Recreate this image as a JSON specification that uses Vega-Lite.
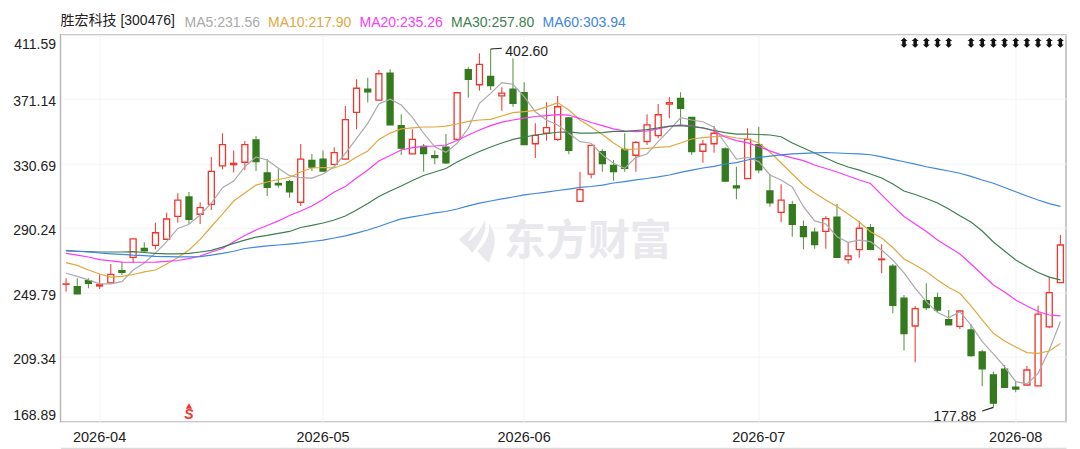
{"$schema":"https://vega.github.io/schema/vega-lite/v6.json","width":1005.5,"height":387,"autosize":"none","padding":{"left":60.5,"top":34.7,"right":14,"bottom":27.3},"background":"white",
"config":{"font":"Liberation Sans, Noto Sans CJK SC","view":{"stroke":"#b8b8b8","strokeWidth":1.5}},
"title":{"text":"胜宏科技 [300476]","anchor":"start","frame":"group","fontSize":14,"fontWeight":"normal","color":"#222","offset":-12,"font":"Liberation Sans, Noto Sans CJK SC"},
"data":{"values":[
{"date":"2026-03-27","open":255.1,"high":258.8,"low":250.4,"close":255.3,"ma5":262.0,"ma10":268.6,"ma20":274.5,"ma30":276.0,"ma60":276.3},
{"date":"2026-03-30","open":253.6,"high":258.8,"low":248.8,"close":249.0,"ma5":260.0,"ma10":266.9,"ma20":273.4,"ma30":275.8,"ma60":275.8},
{"date":"2026-03-31","open":257.3,"high":258.8,"low":252.6,"close":255.7,"ma5":257.8,"ma10":264.0,"ma20":272.2,"ma30":275.5,"ma60":275.3},
{"date":"2026-04-01","open":254.0,"high":261.3,"low":252.1,"close":254.8,"ma5":255.3,"ma10":261.5,"ma20":270.5,"ma30":275.3,"ma60":274.7},
{"date":"2026-04-02","open":255.9,"high":267.8,"low":255.7,"close":261.3,"ma5":255.3,"ma10":259.6,"ma20":269.7,"ma30":275.3,"ma60":274.2},
{"date":"2026-04-07","open":263.6,"high":269.2,"low":260.9,"close":262.6,"ma5":256.7,"ma10":260.0,"ma20":269.0,"ma30":275.3,"ma60":273.8},
{"date":"2026-04-08","open":272.0,"high":283.6,"low":268.2,"close":283.5,"ma5":264.0,"ma10":261.2,"ma20":268.9,"ma30":275.5,"ma60":273.3},
{"date":"2026-04-09","open":277.6,"high":281.4,"low":275.5,"close":276.1,"ma5":268.4,"ma10":262.8,"ma20":268.9,"ma30":275.0,"ma60":273.0},
{"date":"2026-04-10","open":279.5,"high":293.7,"low":277.0,"close":287.4,"ma5":274.7,"ma10":264.0,"ma20":269.0,"ma30":274.4,"ma60":272.6},
{"date":"2026-04-13","open":283.3,"high":300.0,"low":282.9,"close":296.0,"ma5":281.8,"ma10":267.8,"ma20":269.4,"ma30":274.1,"ma60":272.4},
{"date":"2026-04-14","open":297.7,"high":312.1,"low":293.7,"close":307.9,"ma5":290.1,"ma10":271.9,"ma20":270.0,"ma30":274.1,"ma60":272.3},
{"date":"2026-04-15","open":309.8,"high":313.0,"low":292.9,"close":295.8,"ma5":292.7,"ma10":276.6,"ma20":271.2,"ma30":274.4,"ma60":272.3},
{"date":"2026-04-16","open":299.0,"high":306.5,"low":292.9,"close":303.1,"ma5":298.5,"ma10":283.2,"ma20":272.8,"ma30":275.3,"ma60":272.4},
{"date":"2026-04-17","open":305.2,"high":334.9,"low":301.7,"close":325.9,"ma5":305.9,"ma10":291.3,"ma20":275.3,"ma30":276.3,"ma60":273.4},
{"date":"2026-04-20","open":329.3,"high":349.8,"low":327.2,"close":342.6,"ma5":315.6,"ma10":299.1,"ma20":277.5,"ma30":278.4,"ma60":274.5},
{"date":"2026-04-21","open":330.1,"high":338.9,"low":325.1,"close":330.9,"ma5":319.8,"ma10":307.3,"ma20":281.8,"ma30":280.7,"ma60":275.8},
{"date":"2026-04-22","open":331.6,"high":344.9,"low":326.7,"close":342.6,"ma5":328.8,"ma10":312.3,"ma20":285.7,"ma30":282.8,"ma60":277.5},
{"date":"2026-04-23","open":345.6,"high":348.1,"low":326.1,"close":332.0,"ma5":334.9,"ma10":317.3,"ma20":289.1,"ma30":284.7,"ma60":278.4},
{"date":"2026-04-24","open":324.9,"high":333.6,"low":310.4,"close":315.9,"ma5":333.0,"ma10":319.2,"ma20":291.9,"ma30":285.7,"ma60":279.1},
{"date":"2026-04-27","open":318.4,"high":327.2,"low":315.6,"close":317.5,"ma5":327.8,"ma10":320.8,"ma20":294.8,"ma30":287.0,"ma60":279.7},
{"date":"2026-04-28","open":319.4,"high":320.5,"low":309.4,"close":313.1,"ma5":323.2,"ma10":322.2,"ma20":298.2,"ma30":288.2,"ma60":280.3},
{"date":"2026-04-29","open":306.5,"high":343.1,"low":304.2,"close":333.6,"ma5":321.9,"ma10":325.5,"ma20":301.0,"ma30":290.7,"ma60":281.0},
{"date":"2026-04-30","open":332.8,"high":336.8,"low":326.1,"close":328.6,"ma5":321.7,"ma10":328.0,"ma20":304.2,"ma30":292.0,"ma60":281.9},
{"date":"2026-05-06","open":333.5,"high":338.9,"low":325.7,"close":326.1,"ma5":324.2,"ma10":328.3,"ma20":308.2,"ma30":293.5,"ma60":282.8},
{"date":"2026-05-07","open":330.3,"high":341.0,"low":329.7,"close":337.6,"ma5":328.8,"ma10":328.0,"ma20":312.9,"ma30":295.4,"ma60":284.1},
{"date":"2026-05-08","open":333.5,"high":366.9,"low":333.0,"close":358.3,"ma5":337.2,"ma10":330.5,"ma20":316.4,"ma30":297.9,"ma60":285.4},
{"date":"2026-05-11","open":362.9,"high":383.6,"low":352.3,"close":378.0,"ma5":346.6,"ma10":334.9,"ma20":321.7,"ma30":301.7,"ma60":287.2},
{"date":"2026-05-12","open":377.5,"high":384.6,"low":369.0,"close":375.7,"ma5":356.0,"ma10":338.7,"ma20":326.7,"ma30":305.7,"ma60":289.1},
{"date":"2026-05-13","open":370.5,"high":389.5,"low":370.2,"close":387.1,"ma5":368.1,"ma10":345.9,"ma20":332.4,"ma30":310.1,"ma60":291.3},
{"date":"2026-05-14","open":387.4,"high":389.9,"low":354.8,"close":355.0,"ma5":371.1,"ma10":349.9,"ma20":335.8,"ma30":313.6,"ma60":293.8},
{"date":"2026-05-15","open":354.5,"high":361.7,"low":336.2,"close":340.4,"ma5":367.5,"ma10":352.5,"ma20":339.3,"ma30":316.7,"ma60":296.1},
{"date":"2026-05-18","open":336.8,"high":352.3,"low":336.6,"close":346.0,"ma5":359.8,"ma10":353.1,"ma20":340.8,"ma30":320.2,"ma60":297.3},
{"date":"2026-05-19","open":341.6,"high":343.1,"low":325.7,"close":337.0,"ma5":349.8,"ma10":353.7,"ma20":341.5,"ma30":323.3,"ma60":298.5},
{"date":"2026-05-20","open":335.7,"high":338.9,"low":330.3,"close":334.5,"ma5":341.3,"ma10":353.7,"ma20":341.8,"ma30":325.5,"ma60":299.8},
{"date":"2026-05-21","open":341.0,"high":349.3,"low":330.5,"close":331.3,"ma5":337.8,"ma10":354.3,"ma20":342.4,"ma30":327.7,"ma60":300.7},
{"date":"2026-05-22","open":346.0,"high":375.3,"low":345.6,"close":375.2,"ma5":343.5,"ma10":355.6,"ma20":345.2,"ma30":331.8,"ma60":302.3},
{"date":"2026-05-25","open":389.6,"high":391.2,"low":372.1,"close":383.6,"ma5":352.9,"ma10":357.2,"ma20":348.7,"ma30":335.2,"ma60":304.2},
{"date":"2026-05-26","open":380.2,"high":399.9,"low":376.5,"close":393.0,"ma5":368.6,"ma10":358.1,"ma20":351.8,"ma30":338.3,"ma60":306.0},
{"date":"2026-05-27","open":385.5,"high":402.6,"low":376.9,"close":379.6,"ma5":374.8,"ma10":358.5,"ma20":354.6,"ma30":341.2,"ma60":307.3},
{"date":"2026-05-28","open":373.2,"high":378.6,"low":363.9,"close":375.0,"ma5":381.5,"ma10":360.6,"ma20":356.8,"ma30":343.7,"ma60":308.6},
{"date":"2026-05-29","open":377.4,"high":396.8,"low":366.4,"close":368.6,"ma5":380.5,"ma10":362.7,"ma20":358.1,"ma30":345.9,"ma60":309.8},
{"date":"2026-06-01","open":375.2,"high":381.7,"low":342.4,"close":342.6,"ma5":372.7,"ma10":363.4,"ma20":359.3,"ma30":347.4,"ma60":311.1},
{"date":"2026-06-02","open":343.2,"high":356.0,"low":334.3,"close":348.5,"ma5":363.3,"ma10":364.1,"ma20":360.3,"ma30":348.7,"ma60":312.0},
{"date":"2026-06-03","open":349.8,"high":369.2,"low":345.1,"close":353.3,"ma5":358.1,"ma10":366.3,"ma20":360.9,"ma30":349.6,"ma60":312.9},
{"date":"2026-06-04","open":346.0,"high":373.2,"low":344.9,"close":366.4,"ma5":355.0,"ma10":369.0,"ma20":361.5,"ma30":350.4,"ma60":313.9},
{"date":"2026-06-05","open":359.4,"high":360.2,"low":336.6,"close":339.1,"ma5":349.8,"ma10":364.4,"ma20":361.2,"ma30":350.6,"ma60":314.8},
{"date":"2026-06-08","open":307.1,"high":325.7,"low":307.0,"close":314.4,"ma5":344.5,"ma10":358.1,"ma20":359.0,"ma30":349.9,"ma60":315.8},
{"date":"2026-06-09","open":324.1,"high":342.4,"low":321.5,"close":342.2,"ma5":343.5,"ma10":353.7,"ma20":356.5,"ma30":349.9,"ma60":316.4},
{"date":"2026-06-10","open":338.2,"high":339.7,"low":325.7,"close":330.7,"ma5":336.2,"ma10":349.0,"ma20":354.6,"ma30":350.2,"ma60":317.3},
{"date":"2026-06-11","open":329.7,"high":333.0,"low":320.0,"close":325.7,"ma5":331.0,"ma10":343.7,"ma20":352.5,"ma30":350.9,"ma60":318.6},
{"date":"2026-06-12","open":339.7,"high":349.8,"low":325.7,"close":327.8,"ma5":327.8,"ma10":339.3,"ma20":351.2,"ma30":351.0,"ma60":319.5},
{"date":"2026-06-15","open":336.0,"high":344.9,"low":325.7,"close":344.1,"ma5":334.7,"ma10":339.9,"ma20":350.8,"ma30":351.5,"ma60":320.5},
{"date":"2026-06-16","open":344.5,"high":361.7,"low":342.4,"close":355.0,"ma5":336.8,"ma10":340.3,"ma20":351.2,"ma30":352.1,"ma60":321.4},
{"date":"2026-06-17","open":348.3,"high":368.1,"low":346.6,"close":361.4,"ma5":344.5,"ma10":340.9,"ma20":352.5,"ma30":353.1,"ma60":322.4},
{"date":"2026-06-18","open":368.1,"high":372.3,"low":359.2,"close":369.0,"ma5":351.8,"ma10":341.4,"ma20":354.0,"ma30":354.3,"ma60":323.6},
{"date":"2026-06-22","open":371.7,"high":375.5,"low":355.0,"close":365.4,"ma5":359.5,"ma10":343.7,"ma20":355.0,"ma30":354.6,"ma60":325.2},
{"date":"2026-06-23","open":359.8,"high":359.9,"low":336.2,"close":338.2,"ma5":358.1,"ma10":346.2,"ma20":354.3,"ma30":354.0,"ma60":326.7},
{"date":"2026-06-24","open":338.5,"high":345.6,"low":331.3,"close":342.9,"ma5":357.0,"ma10":347.1,"ma20":353.1,"ma30":353.1,"ma60":328.0},
{"date":"2026-06-25","open":343.2,"high":354.3,"low":337.6,"close":349.8,"ma5":353.5,"ma10":347.7,"ma20":351.2,"ma30":351.5,"ma60":329.0},
{"date":"2026-06-26","open":339.9,"high":341.0,"low":319.4,"close":319.8,"ma5":343.5,"ma10":348.1,"ma20":347.4,"ma30":350.2,"ma60":330.5},
{"date":"2026-06-29","open":316.7,"high":328.8,"low":308.4,"close":315.6,"ma5":333.5,"ma10":346.8,"ma20":345.2,"ma30":349.3,"ma60":331.4},
{"date":"2026-06-30","open":321.3,"high":352.9,"low":321.2,"close":346.0,"ma5":334.7,"ma10":346.2,"ma20":343.7,"ma30":349.3,"ma60":333.0},
{"date":"2026-07-01","open":342.6,"high":353.9,"low":324.7,"close":326.9,"ma5":332.0,"ma10":343.7,"ma20":341.5,"ma30":349.0,"ma60":334.6},
{"date":"2026-07-02","open":313.6,"high":324.2,"low":303.7,"close":306.1,"ma5":323.6,"ma10":338.0,"ma20":338.7,"ma30":348.7,"ma60":335.5},
{"date":"2026-07-03","open":300.2,"high":317.8,"low":294.0,"close":307.9,"ma5":320.5,"ma10":331.1,"ma20":336.2,"ma30":347.6,"ma60":336.2},
{"date":"2026-07-06","open":305.0,"high":307.3,"low":284.9,"close":292.7,"ma5":316.1,"ma10":324.2,"ma20":334.3,"ma30":343.7,"ma60":336.8},
{"date":"2026-07-07","open":291.2,"high":295.0,"low":277.0,"close":284.9,"ma5":303.7,"ma10":317.3,"ma20":332.6,"ma30":340.5,"ma60":337.2},
{"date":"2026-07-08","open":287.7,"high":290.6,"low":277.4,"close":279.9,"ma5":294.8,"ma10":312.3,"ma20":329.9,"ma30":337.4,"ma60":337.5},
{"date":"2026-07-09","open":288.3,"high":297.9,"low":277.4,"close":296.2,"ma5":292.9,"ma10":307.9,"ma20":327.7,"ma30":334.3,"ma60":337.7},
{"date":"2026-07-10","open":297.1,"high":305.4,"low":271.9,"close":272.0,"ma5":284.9,"ma10":303.9,"ma20":325.5,"ma30":331.1,"ma60":337.4},
{"date":"2026-07-13","open":270.5,"high":281.4,"low":268.0,"close":272.8,"ma5":281.4,"ma10":299.1,"ma20":323.0,"ma30":328.6,"ma60":337.1},
{"date":"2026-07-14","open":276.8,"high":294.8,"low":271.7,"close":290.2,"ma5":282.7,"ma10":294.1,"ma20":320.5,"ma30":326.7,"ma60":336.8},
{"date":"2026-07-15","open":290.6,"high":292.9,"low":276.4,"close":277.0,"ma5":281.8,"ma10":288.0,"ma20":318.3,"ma30":324.2,"ma60":336.3},
{"date":"2026-07-16","open":270.5,"high":280.2,"low":262.0,"close":270.9,"ma5":276.6,"ma10":284.1,"ma20":311.1,"ma30":321.7,"ma60":335.0},
{"date":"2026-07-17","open":266.4,"high":267.8,"low":236.9,"close":241.9,"ma5":270.3,"ma10":278.1,"ma20":304.2,"ma30":318.0,"ma60":333.4},
{"date":"2026-07-20","open":246.3,"high":248.4,"low":213.4,"close":224.1,"ma5":262.2,"ma10":270.9,"ma20":297.6,"ma30":313.6,"ma60":331.9},
{"date":"2026-07-21","open":228.9,"high":241.5,"low":206.2,"close":239.8,"ma5":252.7,"ma10":267.2,"ma20":292.9,"ma30":311.4,"ma60":330.4},
{"date":"2026-07-22","open":244.8,"high":255.7,"low":238.9,"close":240.4,"ma5":244.2,"ma10":263.0,"ma20":288.2,"ma30":308.9,"ma60":328.8},
{"date":"2026-07-23","open":246.7,"high":249.8,"low":237.3,"close":238.9,"ma5":237.3,"ma10":257.8,"ma20":282.8,"ma30":306.0,"ma60":327.4},
{"date":"2026-07-24","open":232.9,"high":238.9,"low":229.6,"close":229.7,"ma5":234.1,"ma10":253.0,"ma20":278.5,"ma30":302.3,"ma60":326.1},
{"date":"2026-07-27","open":228.7,"high":238.4,"low":227.0,"close":238.3,"ma5":237.9,"ma10":249.4,"ma20":274.1,"ma30":298.1,"ma60":324.7},
{"date":"2026-07-28","open":226.4,"high":230.0,"low":209.7,"close":210.3,"ma5":229.5,"ma10":241.5,"ma20":267.8,"ma30":294.1,"ma60":322.7},
{"date":"2026-07-29","open":212.6,"high":213.9,"low":191.1,"close":202.0,"ma5":219.1,"ma10":232.7,"ma20":261.2,"ma30":288.5,"ma60":320.5},
{"date":"2026-07-30","open":198.2,"high":200.3,"low":177.88,"close":180.5,"ma5":211.4,"ma10":224.3,"ma20":254.6,"ma30":281.6,"ma60":318.4},
{"date":"2026-07-31","open":201.8,"high":204.5,"low":190.4,"close":190.5,"ma5":203.4,"ma10":219.5,"ma20":250.2,"ma30":276.0,"ma60":315.8},
{"date":"2026-08-03","open":190.5,"high":194.0,"low":187.3,"close":189.4,"ma5":194.0,"ma10":215.7,"ma20":245.2,"ma30":270.3,"ma60":313.1},
{"date":"2026-08-04","open":191.9,"high":203.8,"low":191.5,"close":201.3,"ma5":192.5,"ma10":212.2,"ma20":241.5,"ma30":266.2,"ma60":310.4},
{"date":"2026-08-05","open":191.3,"high":241.6,"low":191.2,"close":236.3,"ma5":199.2,"ma10":211.7,"ma20":238.0,"ma30":262.5,"ma60":307.9},
{"date":"2026-08-06","open":228.3,"high":259.8,"low":227.5,"close":249.8,"ma5":213.9,"ma10":213.2,"ma20":235.8,"ma30":259.6,"ma60":305.7},
{"date":"2026-08-07","open":256.1,"high":286.0,"low":256.0,"close":279.7,"ma5":231.56,"ma10":217.9,"ma20":235.26,"ma30":257.8,"ma60":303.94}
]},
"encoding":{"x":{"field":"date","type":"ordinal","title":null,"scale":{"type":"band","paddingInner":0,"paddingOuter":0},"axis":{"values":["2026-04-01","2026-05-06","2026-06-01","2026-07-01","2026-08-03"],"labelExpr":"slice(datum.value,0,7)","labelAngle":0,"labelFontSize":14.5,"labelColor":"#222","labelPadding":-11,"labelBaseline":"middle","offset":26.3,"ticks":false,"domainColor":"#dcdcdc","domainWidth":1.5,"grid":true,"gridColor":"#f3f3f3"}}},
"layer":[
{"data":{"values":[{"date":"2026-05-26","price":282}]},"mark":{"type":"point","filled":true,"opacity":1,"color":"#e9e9ed","size":1800,"shape":"M.25,-1C.35,-.6 .2,-.1 -.35,.55C-.55,.2 -.85,.1 -.95,-.1C-.9,-.2 -.5,-.45 -.2,-.75C-.3,-.45 -.45,-.2 -.55,0C-.3,-.1 .05,-.5 .25,-1ZM.45,-.85C.75,-.4 .8,.1 .6,.55L.45,1C.2,.85 .05,.65 -.1,.45C.35,.05 .5,-.4 .45,-.85Z"},"encoding":{"y":{"field":"price","type":"quantitative"}}},
{"data":{"values":[{"date":"2026-06-09","price":281.6,"label":"东方财富"}]},"mark":{"type":"text","fontSize":42,"fontWeight":"bold","color":"#e9e9ed","dx":-3.5,"font":"Noto Sans CJK SC"},"encoding":{"y":{"field":"price","type":"quantitative"},"text":{"field":"label"}}},
{"mark":{"type":"rule","strokeWidth":1.1},"encoding":{"y":{"field":"low","type":"quantitative","title":null,"scale":{"domain":[168.89,411.59],"nice":false,"zero":false},"axis":{"values":[168.89,209.34,249.79,290.24,330.69,371.14,411.59],"format":".2f","labelFontSize":14,"labelColor":"#222","labelPadding":5,"ticks":false,"domain":false,"gridColor":"#f3f3f3","labelBaseline":"middle","labelOffset":{"expr":"datum.value>411?9.5:(datum.value<169?-6.5:2.5)"}}},"y2":{"field":"high"},"color":{"condition":{"test":"datum.close>=datum.open","value":"#f2453c"},"value":"#5f9a4a"}}},
{"mark":{"type":"bar","size":6,"strokeWidth":1.3},"encoding":{"y":{"field":"open","type":"quantitative"},"y2":{"field":"close"},"fill":{"condition":{"test":"datum.close>=datum.open","value":"#ffffff"},"value":"#357a1f"},"stroke":{"condition":{"test":"datum.close>=datum.open","value":"#f2352c"},"value":"#357a1f"}}},
{"transform":[{"fold":["ma5","ma10","ma20","ma30","ma60"],"as":["ma","val"]}],"mark":{"type":"line","strokeWidth":1.2},"encoding":{"y":{"field":"val","type":"quantitative"},"color":{"field":"ma","type":"nominal","scale":{"domain":["ma5","ma10","ma20","ma30","ma60"],"range":["#aaaaaa","#e0a840","#f83cf8","#3f7f4f","#3f86e0"]},"legend":{"orient":"none","legendX":118,"legendY":-19,"direction":"horizontal","columns":5,"title":null,"symbolSize":0,"symbolStrokeWidth":0,"labelOffset":-8,"columnPadding":1.5,"labelFontSize":14,"labelExpr":"{'ma5':'MA5:231.56','ma10':'MA10:217.90','ma20':'MA20:235.26','ma30':'MA30:257.80','ma60':'MA60:303.94'}[datum.label]","encode":{"labels":{"update":{"fill":{"scale":"color","field":"value"}}}}}}}},
{"data":{"values":[{"date":"2026-05-27","date2":"2026-05-28","price":402.6,"price2":403.1},{"date":"2026-07-30","date2":"2026-07-29","price":177.88,"price2":175.6}]},"mark":{"type":"rule","strokeWidth":1.1,"color":"#222"},"encoding":{"y":{"field":"price","type":"quantitative"},"y2":{"field":"price2"},"x2":{"field":"date2"}}},
{"data":{"values":[{"date":"2026-05-28","price":402.6,"label":"402.60"}]},"mark":{"type":"text","align":"left","dx":3.5,"dy":2.5,"fontSize":14,"color":"#222"},"encoding":{"y":{"field":"price","type":"quantitative"},"text":{"field":"label"}}},
{"data":{"values":[{"date":"2026-07-29","price":175.6,"label":"177.88"}]},"mark":{"type":"text","align":"right","dx":-6,"dy":6,"fontSize":14,"color":"#222"},"encoding":{"y":{"field":"price","type":"quantitative"},"text":{"field":"label"}}},
{"data":{"values":[{"date":"2026-07-20"},{"date":"2026-07-21"},{"date":"2026-07-22"},{"date":"2026-07-23"},{"date":"2026-07-24"},{"date":"2026-07-28"},{"date":"2026-07-29"},{"date":"2026-07-30"},{"date":"2026-07-31"},{"date":"2026-08-03"},{"date":"2026-08-04"},{"date":"2026-08-05"},{"date":"2026-08-06"},{"date":"2026-08-07"}]},"mark":{"type":"point","filled":true,"opacity":1,"color":"#111","size":100,"shape":"M0,-1L.7,-.35L.35,-.35L.35,.35L.7,.35L0,1L-.7,.35L-.35,.35L-.35,-.35L-.7,-.35Z"},"encoding":{"y":{"datum":406.6,"type":"quantitative"}}},
{"data":{"values":[{"date":"2026-04-15","price":178.7}]},"mark":{"type":"point","shape":"triangle-up","filled":true,"opacity":1,"color":"#f2352c","size":40},"encoding":{"y":{"field":"price","type":"quantitative"}}},
{"data":{"values":[{"date":"2026-04-15","price":173.1,"label":"S"}]},"mark":{"type":"text","fontSize":14,"fontWeight":"bold","fontStyle":"italic","color":"#f2352c"},"encoding":{"y":{"field":"price","type":"quantitative"},"text":{"field":"label"}}}
]}
